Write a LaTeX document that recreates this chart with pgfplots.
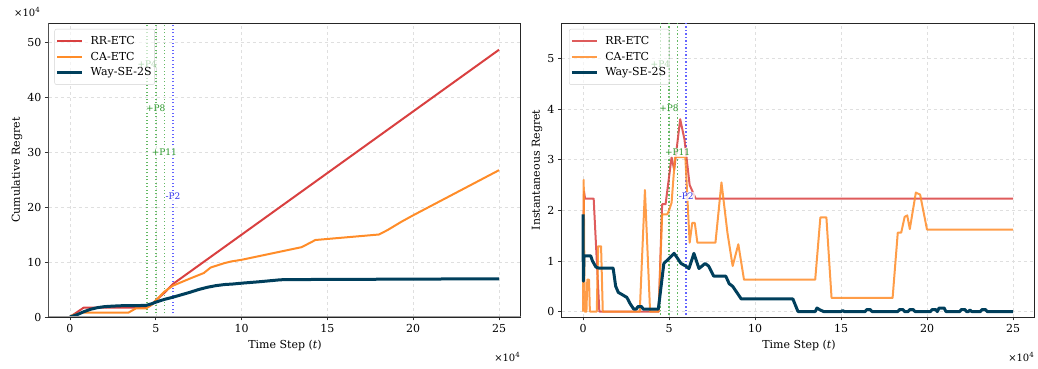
\documentclass[border=0pt]{standalone}
\usepackage{fontspec}
\setmainfont{DejaVu Serif}
\usepackage{pgfplots}
\pgfplotsset{compat=1.18}
\definecolor{rr}{RGB}{217,64,64}
\definecolor{ca}{RGB}{255,140,40}
\definecolor{way}{RGB}{0,63,92}
\definecolor{gline}{RGB}{100,185,100}
\definecolor{gtext}{RGB}{40,150,40}
\definecolor{bline}{RGB}{100,100,255}
\definecolor{btext}{RGB}{50,50,235}
\tikzset{
  lab/.style={font=\fontsize{9}{10}\selectfont, fill=white, fill opacity=0.75, text opacity=1, inner sep=1pt},
  vl/.style={line width=1.5pt, dash pattern=on 1.4pt off 2.1pt},
}
\newcommand{\legent}[1]{\vphantom{Wy}#1}
\pgfplotsset{
  legend image code/.code={\draw[#1] (0pt,0pt) -- (25pt,0pt);},
  base/.style={
    scale only axis, height=294pt,
    xmin=-1.25, xmax=26.25,
    xtick={0,5,10,15,20,25},
    tick align=outside, xtick pos=bottom, ytick pos=left,
    major tick length=3.5pt,
    tick style={black!80, line width=0.8pt},
    grid=major, grid style={dashed, gray!25, line width=0.5pt},
    axis line style={black!85, line width=0.8pt},
    ticklabel style={font=\fontsize{11}{13}\selectfont},
    /pgf/number format/assume math mode=true,
    scaled ticks=false,
    legend cell align=left,
    legend style={anchor=north west, draw=gray!35, rounded corners=2pt, fill=white, fill opacity=0.65, text opacity=1, draw opacity=1,
      font=\fontsize{11}{13}\selectfont, inner xsep=1pt, inner ysep=4.3pt, row sep=0pt, column sep=5pt,
      nodes={inner ysep=3pt, inner xsep=2pt}},
  },
}
\begin{document}
\begin{tikzpicture}[x=1pt,y=1pt]
\path[use as bounding box] (0,0) rectangle (1038,369);
% ---------------- left panel
\begin{axis}[base, at={(48.5pt,52pt)}, anchor=south west, width=472pt,
  ymin=0, ymax=53.46, ytick={0,10,20,30,40,50},
  legend style={at={(0.0127,0.98)}}]
\addplot[vl, gline, forget plot] coordinates {(4.5,0) (4.5,53.46)};
\addplot[vl, gline, forget plot] coordinates {(5.0,0) (5.0,53.46)};
\addplot[vl, gline, forget plot] coordinates {(5.5,0) (5.5,53.46)};
\addplot[vl, bline, forget plot] coordinates {(6.0,0) (6.0,53.46)};
\addplot[rr, line width=2pt, line join=round] coordinates {
(0,0)(0.8,1.7)(4.45,1.7)(4.7,2.1)(5.0,3.0)(5.5,4.4)(6.0,6.0)(25,48.6)};
\addlegendentry{\legent{RR-ETC}}
\addplot[ca, line width=2pt, line join=round] coordinates {
(0,0)(0.15,0.35)(0.3,0.45)(0.7,0.78)(3.4,0.78)(3.85,1.58)(4.45,1.58)(4.75,2.2)(5.0,3.0)(5.5,4.6)(6.0,5.7)(7.0,7.0)(7.8,8.0)(8.2,9.0)(9.0,9.8)(9.4,10.1)(10,10.4)(13.5,12.7)(14.3,14.0)(18,15.0)(18.5,15.8)(19.3,17.3)(20,18.5)(25,26.7)};
\addlegendentry{\legent{CA-ETC}}
\addplot[way, line width=3pt, line join=round] coordinates {
(0,0)(0.4,0.4)(0.8,0.95)(1.2,1.4)(1.6,1.7)(2.0,1.88)(2.5,1.98)(3.0,2.05)(4.0,2.08)(4.45,2.12)(4.8,2.45)(5.0,2.7)(5.5,3.2)(6.0,3.6)(6.5,4.05)(7.0,4.5)(7.5,5.0)(8.0,5.4)(8.5,5.7)(9.0,5.9)(9.5,6.0)(10,6.15)(11,6.4)(12.2,6.75)(12.5,6.8)(25,6.95)};
\addlegendentry{\legent{Way-SE-2S}}
\node[lab, text=gtext] at (axis cs:4.5,46.0) {+P4};
\node[lab, text=gtext] at (axis cs:5.0,37.95) {+P8};
\node[lab, text=gtext] at (axis cs:5.5,29.9) {+P11};
\node[lab, text=btext] at (axis cs:6.0,21.9) {-P2};
\draw[gray!75, line width=1.5pt] (rel axis cs:0,1) -- (rel axis cs:0,0) -- (rel axis cs:1,0);
\end{axis}
% ---------------- right panel
\begin{axis}[base, at={(561.5pt,52pt)}, anchor=south west, width=473pt,
  ymin=-0.107, ymax=5.70, ytick={0,1,2,3,4,5},
  legend style={at={(0.016,0.98)}}]
\addplot[vl, gline, forget plot] coordinates {(4.5,-0.2) (4.5,6)};
\addplot[vl, gline, forget plot] coordinates {(5.0,-0.2) (5.0,6)};
\addplot[vl, gline, forget plot] coordinates {(5.5,-0.2) (5.5,6)};
\addplot[vl, bline, forget plot] coordinates {(6.0,-0.2) (6.0,6)};
\addplot[rr, opacity=0.85, line width=2pt, line join=round] coordinates {
(0,1.7)(0.03,1.7)(0.06,2.37)(0.12,2.23)(0.62,2.23)(0.95,0)(4.4,0)(4.6,2.12)(4.8,2.12)(5.15,3.05)(5.3,2.8)(5.65,3.8)(5.9,3.4)(6.2,2.5)(6.55,2.23)(25,2.23)};
\addlegendentry{\legent{RR-ETC}}
\addplot[ca, opacity=0.85, line width=2pt, line join=round] coordinates {
(0,0)(0.04,2.6)(0.1,0)(0.2,0)(0.25,0.63)(0.35,0.63)(0.4,0)(0.8,0)(0.88,1.29)(1.05,1.29)(1.15,0)(3.3,0)(3.6,2.4)(3.9,0)(4.4,0)(4.6,1.92)(4.9,1.92)(5.0,2.0)(5.15,2.15)(5.35,3.05)(5.95,3.05)(6.2,1.36)(6.35,1.75)(6.5,1.75)(6.65,1.36)(7.7,1.36)(8.05,2.55)(8.4,1.55)(8.7,0.9)(9.03,1.33)(9.36,0.63)(13.5,0.63)(13.8,1.86)(14.15,1.86)(14.45,0.27)(18.0,0.27)(18.3,1.56)(18.5,1.56)(18.7,1.87)(18.85,1.9)(19.0,1.63)(19.35,2.35)(19.6,2.31)(20.0,1.62)(25,1.62)};
\addlegendentry{\legent{CA-ETC}}
\addplot[way, line width=3pt, line join=round] coordinates {
(0,1.92)(0.02,0.6)(0.06,1.1)(0.45,1.1)(0.55,1.0)(0.75,0.88)(0.9,0.86)(1.75,0.86)(1.9,0.5)(2.05,0.38)(2.3,0.33)(2.55,0.28)(2.75,0.15)(2.95,0.05)(3.1,0.05)(3.2,0.1)(3.4,0.1)(3.5,0.05)(4.38,0.05)(4.7,0.95)(5.0,1.05)(5.3,1.15)(5.5,1.05)(5.7,0.95)(5.97,0.9)(6.16,0.85)(6.45,1.15)(6.74,0.85)(7.1,0.95)(7.3,0.9)(7.6,0.7)(8.3,0.7)(8.5,0.55)(8.7,0.5)(9.2,0.25)(12.2,0.25)(12.5,0.0)(13.5,0)(13.6,0.07)(13.8,0.03)(14,0)(15.0,0)(15.1,0.02)(15.2,0)(16.4,0)(16.5,0.04)(16.7,0.04)(16.8,0)(18.3,0)(18.4,0.04)(18.6,0.04)(18.7,0)(18.9,0)(19.0,0.04)(19.2,0.04)(19.3,0)(20.2,0)(20.3,0.04)(20.5,0.04)(20.6,0)(20.7,0.07)(21.0,0.07)(21.1,0)(21.9,0)(22.0,0.04)(22.2,0.04)(22.3,0)(22.4,0)(22.5,0.03)(22.6,0)(23.1,0)(23.2,0.04)(23.4,0.04)(23.5,0)(25,0)};
\addlegendentry{\legent{Way-SE-2S}}
\node[lab, text=gtext] at (axis cs:4.5,4.887) {+P4};
\node[lab, text=gtext] at (axis cs:5.0,4.015) {+P8};
\node[lab, text=gtext] at (axis cs:5.5,3.144) {+P11};
\node[lab, text=btext] at (axis cs:6.0,2.272) {-P2};
\end{axis}
% axis labels and offset texts
\node[rotate=90, font=\fontsize{11}{13}\selectfont] at (17,199) {Cumulative Regret};
\node[rotate=90, font=\fontsize{11}{13}\selectfont] at (537,199) {Instantaneous Regret};
\node[font=\fontsize{11}{13}\selectfont] at (285,24) {Time Step (\textit{t})};
\node[font=\fontsize{11}{13}\selectfont] at (799,24) {Time Step (\textit{t})};
\node[anchor=west, font=\fontsize{10}{12}\selectfont, inner sep=0pt] at (14,357) {×10\textsuperscript{4}};
\node[anchor=east, font=\fontsize{10}{12}\selectfont, inner sep=0pt] at (520.5,12) {×10\textsuperscript{4}};
\node[anchor=east, font=\fontsize{10}{12}\selectfont, inner sep=0pt] at (1034.5,12) {×10\textsuperscript{4}};
\end{tikzpicture}
\end{document}
